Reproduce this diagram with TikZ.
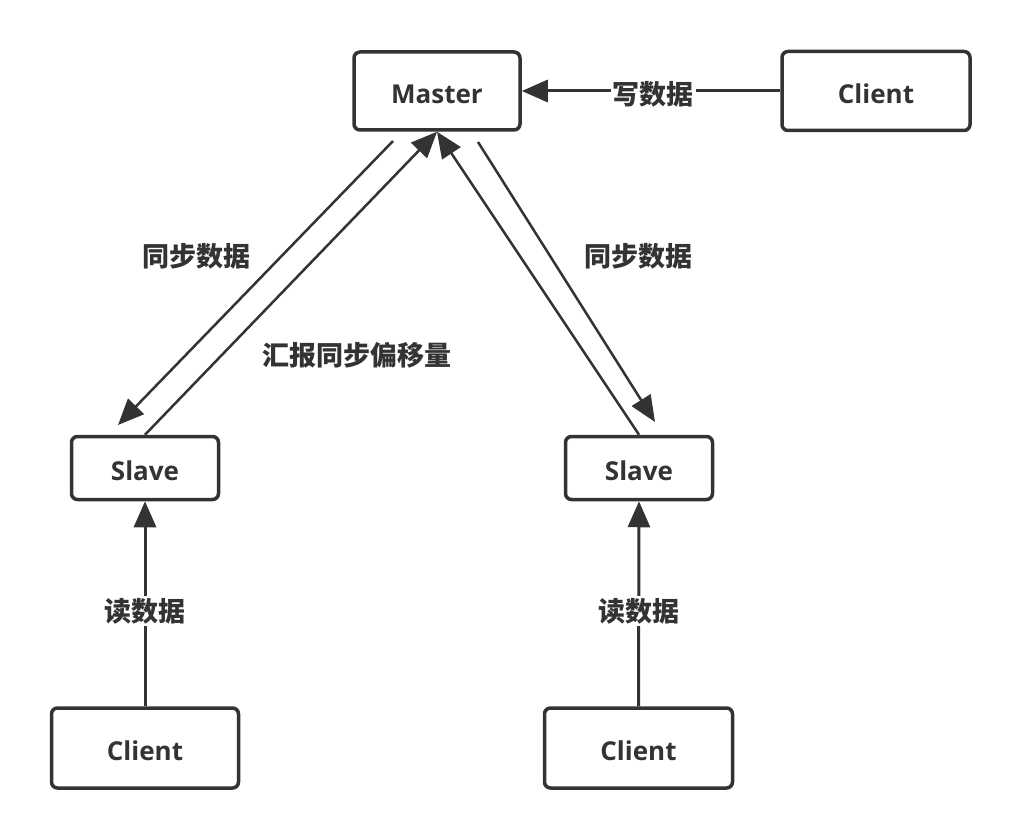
\documentclass[tikz,border=0pt]{standalone}
\usepackage{fontspec}
\setmainfont{Open Sans}
\newfontfamily\cjk{Noto Sans CJK SC}
\usetikzlibrary{arrows.meta}
\definecolor{ink}{HTML}{333333}
\begin{document}
\begin{tikzpicture}[x=1pt,y=-1pt,
 box/.style={draw=ink, line width=3.5pt, rounded corners=6pt, fill=white, text=ink,
   font=\fontsize{26}{30}\selectfont\bfseries, inner sep=0pt, text height=25.6pt, text depth=0pt},
 conn/.style={draw=ink, line width=3pt, -{Triangle[length=26pt,width=22pt]}},
 diag/.style={draw=ink, line width=2.5pt, -{Triangle[length=26pt,width=22pt]}},
 lbl/.style={text=ink, font=\cjk\fontsize{27}{30}\selectfont\bfseries, inner sep=1pt},
 wlbl/.style={lbl, fill=white, inner sep=2pt},
]
\useasboundingbox[fill=white] (0,0) rectangle (1021,840);
\node[box, minimum width=166pt, minimum height=78pt] (master) at (437,91) {Master};
\node[box, minimum width=188pt, minimum height=79pt] (clientT) at (876,91) {Client};
\node[box, minimum width=147pt, minimum height=63pt] (slaveL) at (145,468) {Slave};
\node[box, minimum width=147pt, minimum height=63pt] (slaveR) at (639,468) {Slave};
\node[box, minimum width=187pt, minimum height=80pt] (clientL) at (145,748) {Client};
\node[box, minimum width=188pt, minimum height=80pt] (clientR) at (638.5,748) {Client};

\coordinate (mL) at (393,141);
\coordinate (sLt) at (118,425);
\coordinate (mR) at (478,142);
\coordinate (sRt) at (655,422);

\draw[conn] (clientT.west) -- (master.east);
\draw[conn] (clientL.north) -- (slaveL.south);
\draw[conn] (clientR.north) -- (slaveR.south);
\draw[diag] (mL) -- (sLt);
\draw[diag] (slaveL.north) -- (master.south);
\draw[diag] (mR) -- (sRt);
\draw[diag] (slaveR.north) -- (master.south);

\node[wlbl] (lw) at (653,94) {写数据};
\node[wlbl] (lrL) at (145,611) {读数据};
\node[wlbl] (lrR) at (639,611) {读数据};
\node[lbl] (lsL) at (196,256) {同步数据};
\node[lbl] (lsR) at (638,256) {同步数据};
\node[lbl] (lrep) at (357,355) {汇报同步偏移量};
\end{tikzpicture}
\end{document}
